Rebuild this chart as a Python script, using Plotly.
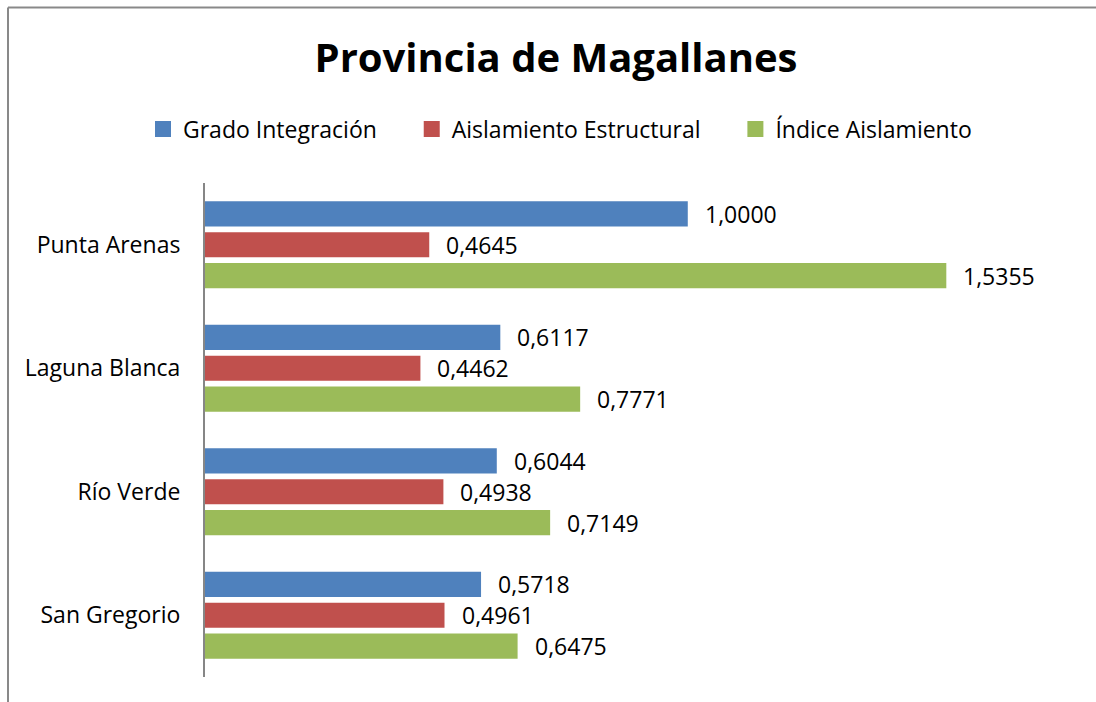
import plotly.graph_objects as go

categories = ["Punta Arenas", "Laguna Blanca", "Río Verde", "San Gregorio"]
series_names = ["Grado Integración", "Aislamiento Estructural", "Índice Aislamiento"]
grado = [1.0000, 0.6117, 0.6044, 0.5718]
aislamiento = [0.4645, 0.4462, 0.4938, 0.4961]
indice = [1.5355, 0.7771, 0.7149, 0.6475]
colors = ["#4F81BD", "#C0504D", "#9BBB59"]
title_text = "Provincia de Magallanes"

FONT = "Open Sans, sans-serif"
W, H = 1096, 702
L, R, T, B = 205, 22, 183, 25
pw = W - L - R
ph = H - T - B
xmax = 1.8

fig = go.Figure()
all_series = [grado, aislamiento, indice]
for name, vals, col in zip(series_names, all_series, colors):
    fig.add_trace(go.Bar(
        y=categories, x=vals, name=name, orientation="h",
        marker=dict(color=col, line=dict(width=0)),
        showlegend=False, legendgroup=name,
    ))
# legend entries (square symbols like the reference)
for name, col in zip(series_names, colors):
    fig.add_trace(go.Scatter(
        x=[None], y=[None], mode="markers", name=name + "\u00a0" * 5,
        marker=dict(symbol="square", size=16, color=col),
        legendgroup=name, showlegend=True,
    ))

# data labels
shifts = [31, 0, -31]
for vals, ys in zip(all_series, shifts):
    for c, v in zip(categories, vals):
        fig.add_annotation(
            x=v, y=c, xref="x", yref="y", text=f"{v:.4f}".replace(".", ","),
            showarrow=False, xanchor="left", yanchor="middle",
            xshift=15, yshift=ys, font=dict(family=FONT, size=23, color="#000"),
        )

# outer chart border (left and top edges visible; the frame runs off the canvas)
def px_to_paper_x(px):
    return (px - L) / pw

def px_to_paper_y(py):
    return (H - B - py) / ph

border = dict(color="#898989", width=2)
fig.add_shape(type="line", xref="paper", yref="paper",
              x0=px_to_paper_x(8), x1=px_to_paper_x(1400),
              y0=px_to_paper_y(7.5), y1=px_to_paper_y(7.5), line=border, layer="below")
fig.add_shape(type="line", xref="paper", yref="paper",
              x0=px_to_paper_x(8), x1=px_to_paper_x(8),
              y0=px_to_paper_y(7.5), y1=px_to_paper_y(1000), line=border, layer="below")

fig.update_layout(
    width=W, height=H,
    margin=dict(l=L, r=R, t=T, b=B),
    paper_bgcolor="white", plot_bgcolor="white",
    barmode="group", bargap=0.25, bargroupgap=0.19,
    font=dict(family=FONT, size=23, color="#000"),
    title=dict(text=f"<b>{title_text}</b>", x=556 / W, xref="container", xanchor="center",
               y=1 - 58 / H, yref="container", yanchor="middle",
               font=dict(family=FONT, size=40, color="#000")),
    legend=dict(orientation="h", x=575 / W, xanchor="center", xref="container",
                y=1 - 129 / H, yanchor="middle", yref="container",
                font=dict(family=FONT, size=23, color="#000"),
                itemwidth=30, traceorder="normal"),
    xaxis=dict(range=[0, xmax], visible=False, showgrid=False, zeroline=False),
    yaxis=dict(autorange="reversed", showline=True, linecolor="#868686", linewidth=2,
               ticks="", showgrid=False, ticklabelstandoff=18,
               tickfont=dict(family=FONT, size=23, color="#000")),
)

fig.write_html("out.html", config={"displayModeBar": False},
               post_script="document.body.style.margin='0';document.body.style.overflow='hidden';")
